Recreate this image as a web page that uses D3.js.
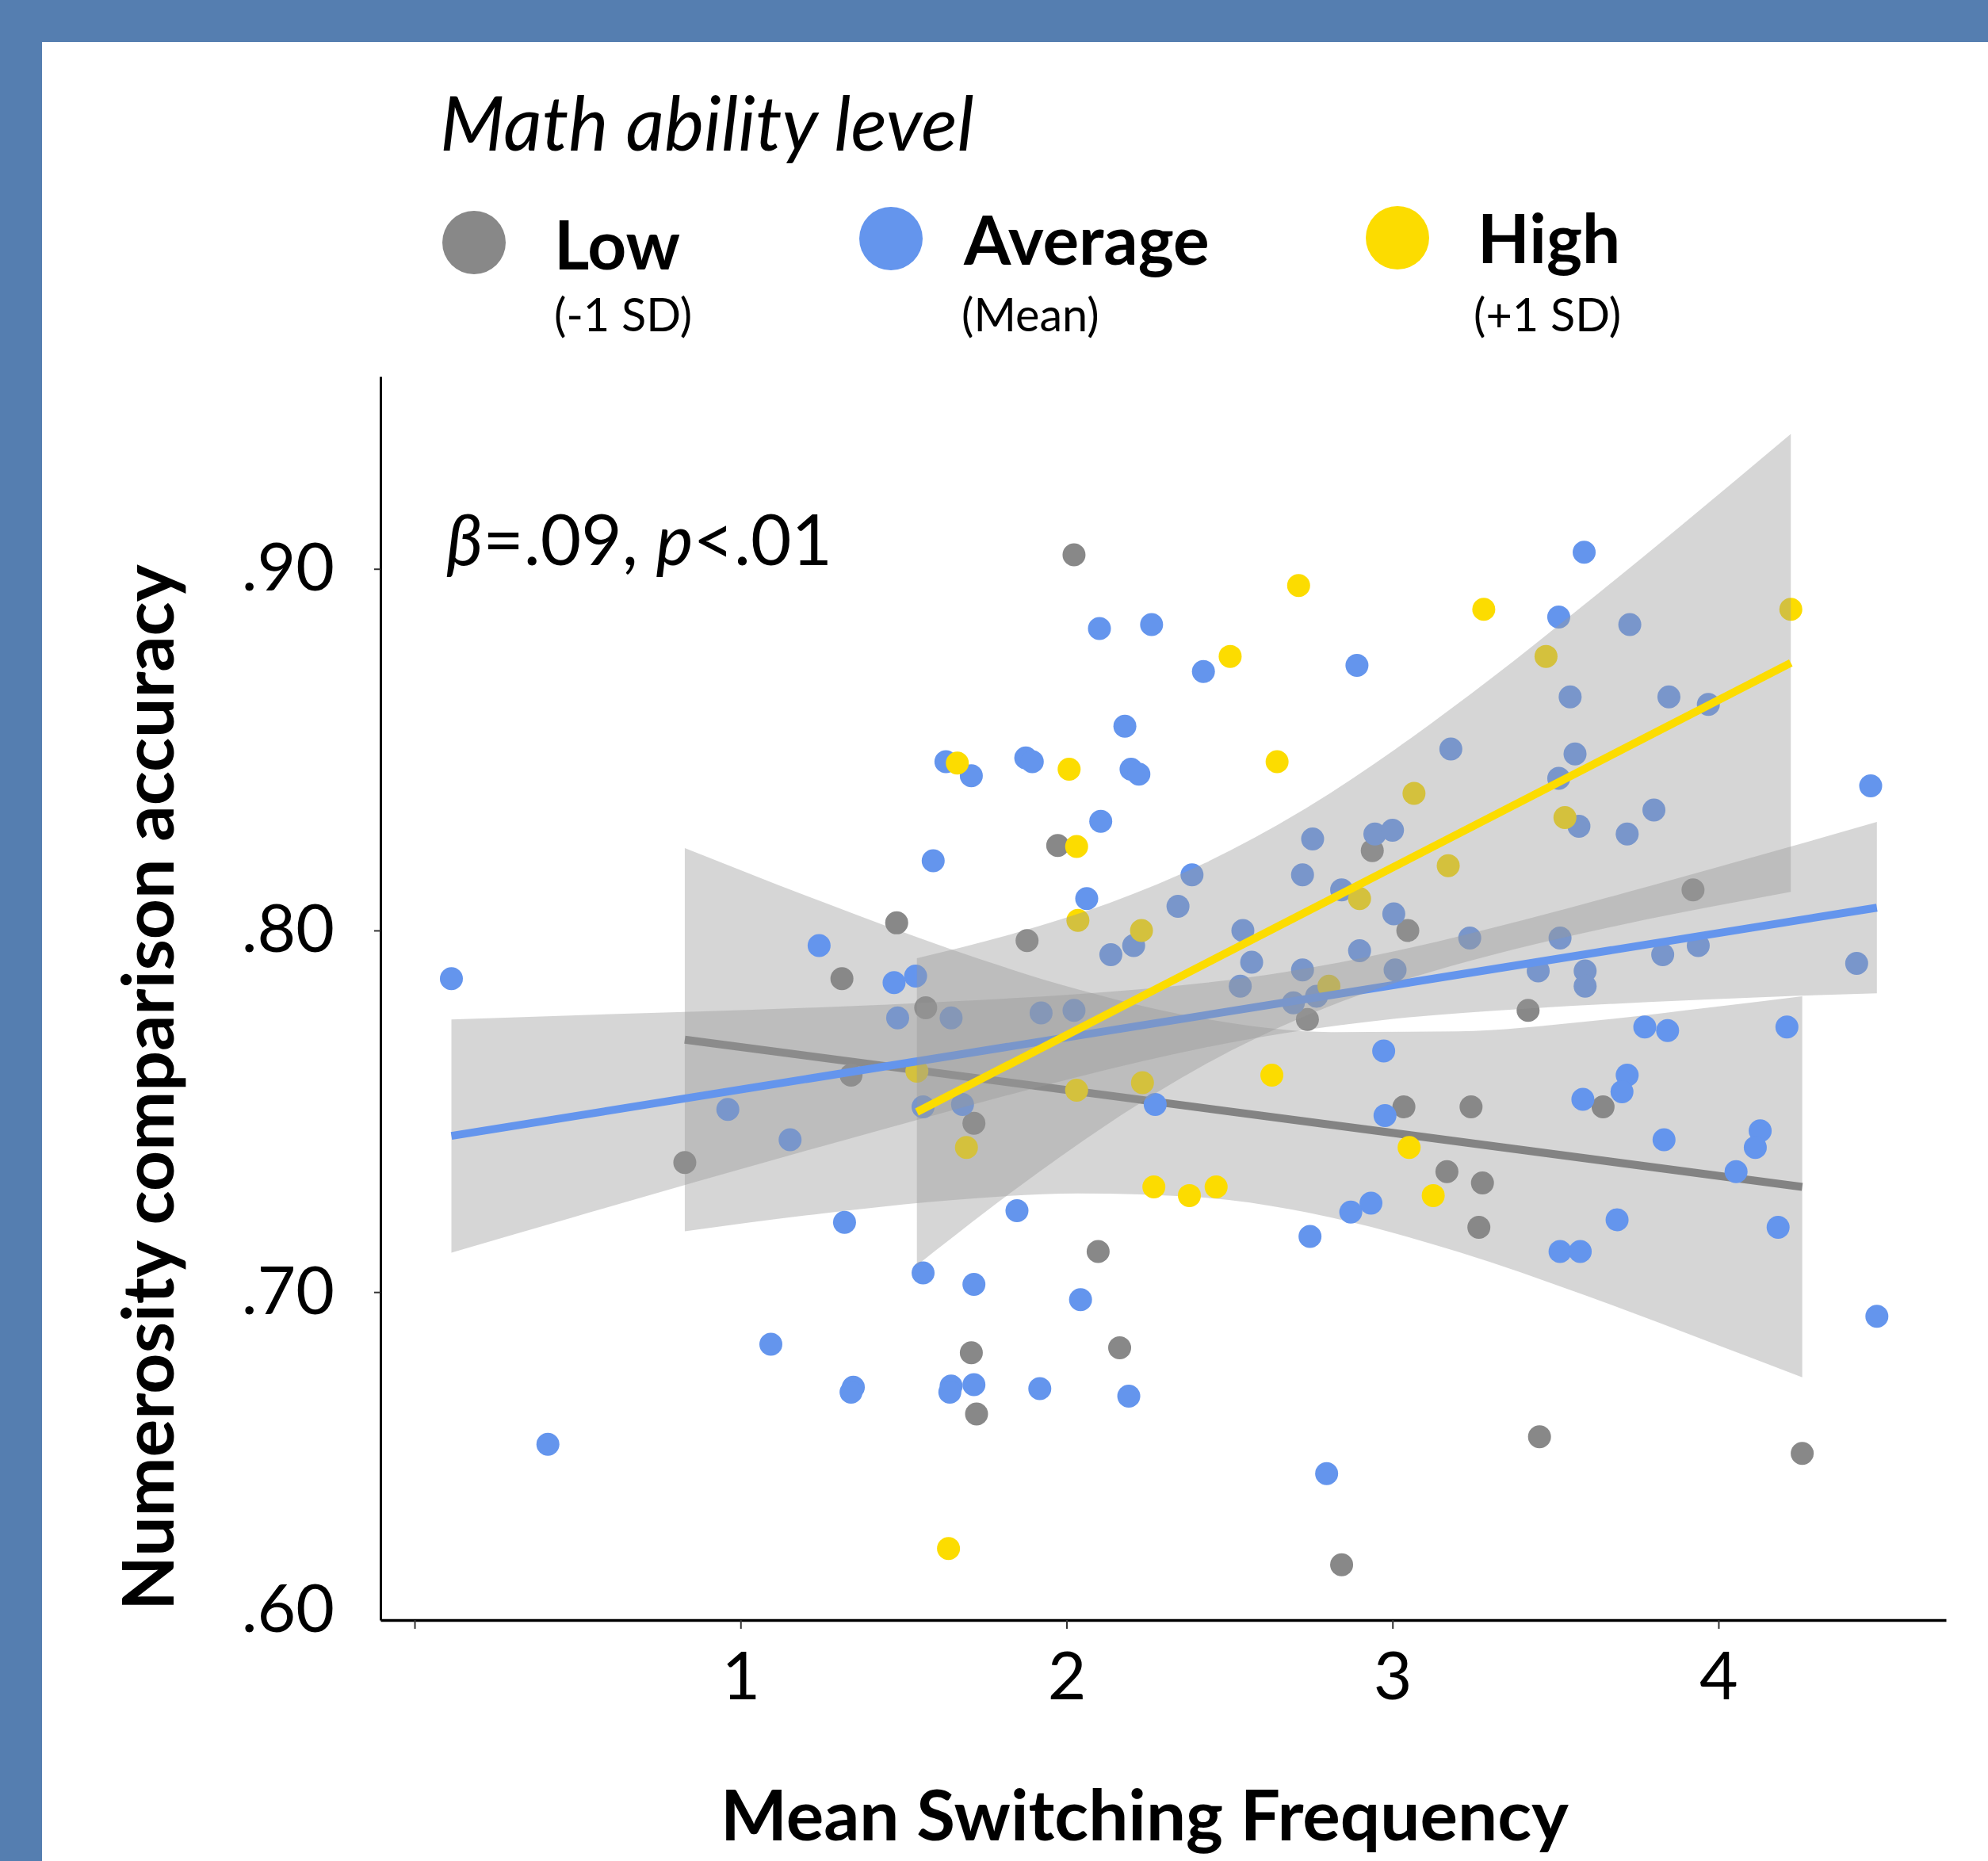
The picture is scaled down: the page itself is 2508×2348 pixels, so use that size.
<!DOCTYPE html>
<html><head><meta charset="utf-8">
<script src="https://cdn.jsdelivr.net/npm/d3@7"></script>
<style>body{margin:0;background:#fff} svg{display:block}</style>
</head><body>
<svg id="c" width="2508" height="2348"></svg>
<script>
// ---------------- DATA ----------------
const groups = ["Low", "Average", "High"];
const groupSubs = ["(-1 SD)", "(Mean)", "(+1 SD)"];
const groupColors = ["#888888", "#6495ED", "#FCDC00"];
const xTicks = [0, 1, 2, 3, 4];
const yTicks = [0.6, 0.7, 0.8, 0.9];

const lowX = [2.023,1.973,1.479,1.879,1.311,1.568,2.938,3.047,2.739,3.922,3.416,1.339,1.716,0.829,3.035,3.241,3.646,3.167,3.276,3.265,2.097,2.163,1.708,1.724,3.451,4.257,2.844];
const lowY = [.9039,.8235,.8021,.7972,.7867,.7786,.8221,.8000,.7754,.8112,.7779,.7600,.7467,.7358,.7512,.7512,.7512,.7333,.7302,.7179,.7112,.6846,.6832,.6663,.6600,.6554,.6246];

const avgX = [0.113,0.409,1.093,0.961,1.152,1.241,1.319,1.346,1.339,1.471,
1.537,1.482,1.646,1.922,2.023,2.136,2.206,1.591,1.630,1.708,
1.875,1.895,2.101,2.261,2.179,2.198,2.222,2.105,2.062,2.420,
2.891,3.588,3.510,3.728,2.385,2.342,2.541,2.568,2.533,2.755,
2.724,2.844,2.946,3.000,3.179,3.004,2.899,2.724,2.696,2.767,
3.008,3.237,3.545,3.848,3.969,3.560,3.510,3.572,3.720,3.802,
3.514,3.447,3.591,3.591,3.829,3.938,4.424,4.467,2.973,3.774,
3.844,4.210,3.720,3.704,3.584,2.272,2.977,3.833,4.128,4.113,
4.054,2.934,2.872,2.747,3.689,3.514,3.576,4.183,4.486,2.191,
2.798,1.560,1.681,1.848,1.560,1.716,2.043,1.646,1.642,1.716,1.918];
const avgY = [.7867,.6579,.6856,.7505,.7421,.7958,.7193,.6737,.6723,.7856,
.7874,.7758,.7758,.7772,.7779,.7933,.7958,.8193,.8467,.8428,
.8477,.8467,.8835,.8846,.8565,.8446,.8432,.8302,.8088,.8716,
.8733,.9046,.8867,.8846,.8154,.8067,.8000,.7912,.7846,.8253,
.8154,.8112,.8267,.8277,.8502,.8046,.7944,.7891,.7800,.7818,
.7891,.7979,.8646,.8646,.8625,.8488,.8421,.8288,.8267,.8333,
.7979,.7888,.7888,.7846,.7933,.7958,.7909,.8400,.7667,.7733,
.7723,.7733,.7600,.7554,.7533,.7519,.7488,.7421,.7446,.7400,
.7333,.7246,.7221,.7154,.7200,.7112,.7112,.7179,.6933,.6712,
.6498,.7512,.7519,.7225,.7053,.7021,.6979,.6740,.6723,.6744,.6733];

const highX = [1.665,2.008,2.031,2.035,2.712,3.280,2.502,2.646,4.222,3.471,3.066,3.529,3.171,2.899,2.230,2.805,1.541,2.031,2.233,2.630,3.051,1.693,2.268,2.377,2.459,3.125,1.638];
const highY = [.8463,.8446,.8232,.8028,.8954,.8888,.8758,.8467,.8888,.8758,.8379,.8312,.8179,.8088,.8000,.7846,.7611,.7558,.7579,.7600,.7400,.7400,.7291,.7267,.7291,.7267,.6291];

// fitted lines (end points)
const lowLineX = [0.829, 4.257],  lowLineY = [0.7698, 0.7291];
const avgLineX = [0.113, 4.486],  avgLineY = [0.7432, 0.8063];
const highLineX = [1.541, 4.222], highLineY = [0.7498, 0.8740];

// confidence bands
const lowBandX  = [0.829,1.257,1.646,2.035,2.424,2.813,3.202,3.591,3.981,4.257];
const lowBandLo = [.7168,.7218,.7254,.7273,.7261,.7206,.7111,.6991,.6859,.6764];
const lowBandHi = [.8228,.8077,.7948,.7837,.7756,.7719,.7721,.7748,.7788,.7818];

const avgBandX  = [0.113,0.479,0.868,1.257,1.646,2.035,2.424,2.669,3.008,3.397,3.786,4.175,4.486];
const avgBandLo = [.7109,.7205,.7306,.7405,.7502,.7595,.7676,.7716,.7756,.7783,.7802,.7817,.7826];
const avgBandHi = [.7754,.7765,.7776,.7788,.7804,.7824,.7855,.7885,.7943,.8028,.8122,.8220,.8300];

const highBandX  = [1.541,1.840,2.132,2.424,2.716,3.008,3.300,3.591,3.883,4.222];
const highBandLo = [.7074,.7282,.7468,.7629,.7757,.7855,.7931,.7994,.8049,.8107];
const highBandHi = [.7923,.7992,.8076,.8186,.8328,.8501,.8695,.8903,.9118,.9373];

// ---------------- DRAW ----------------
const W = 2508, H = 2348;
const FONT = "Lato, 'Open Sans', 'DejaVu Sans', sans-serif";
const svg = d3.select("#c");
svg.append("rect").attr("width", W).attr("height", H).attr("fill", "#fff");
svg.append("rect").attr("x",0).attr("y",0).attr("width",W).attr("height",53).attr("fill","#557EB0");
svg.append("rect").attr("x",0).attr("y",0).attr("width",53).attr("height",H).attr("fill","#557EB0");

const x = d3.scaleLinear().domain([-0.1046, 4.698]).range([480, 2455]);
const y = d3.scaleLinear().domain([0.6093, 0.9532]).range([2044, 475]);

const zip = (xs, ys) => xs.map((v, i) => ({x: v, y: ys[i]}));
const pointSets = [zip(lowX, lowY), zip(avgX, avgY), zip(highX, highY)];
const lineSets = [zip(lowLineX, lowLineY), zip(avgLineX, avgLineY), zip(highLineX, highLineY)];
const bandSets = [
  lowBandX.map((v,i)=>({x:v, lo:lowBandLo[i], hi:lowBandHi[i]})),
  avgBandX.map((v,i)=>({x:v, lo:avgBandLo[i], hi:avgBandHi[i]})),
  highBandX.map((v,i)=>({x:v, lo:highBandLo[i], hi:highBandHi[i]}))
];

const area = d3.area().x(d => x(d.x)).y0(d => y(d.lo)).y1(d => y(d.hi)).curve(d3.curveMonotoneX);
const line = d3.line().x(d => x(d.x)).y(d => y(d.y));

function drawFit(gi) {
  const g = svg.append("g");
  g.append("path").attr("d", area(bandSets[gi])).attr("fill", "#999999").attr("fill-opacity", 0.4);
  g.append("path").attr("d", line(lineSets[gi])).attr("fill", "none")
    .attr("stroke", gi === 0 ? "#838383" : groupColors[gi]).attr("stroke-width", 10);
}

// low-group fit sits beneath the points
drawFit(0);

// points
const gPts = svg.append("g");
pointSets.forEach((pts, gi) => {
  gPts.selectAll(null).data(pts).enter().append("circle")
    .attr("cx", d => x(d.x)).attr("cy", d => y(d.y)).attr("r", 14.5)
    .attr("fill", groupColors[gi]);
});

// average and high fits above the points
drawFit(1);
drawFit(2);

// axes
const gx = svg.append("g").attr("transform", "translate(0,2044)")
  .call(d3.axisBottom(x).tickValues(xTicks).tickFormat(d => d === 0 ? "" : d3.format("d")(d))
    .tickSize(11).tickSizeOuter(0).tickPadding(29));
gx.select(".domain").attr("stroke", "#000").attr("stroke-width", 3.5);
gx.selectAll(".tick line").attr("stroke", "#333").attr("stroke-width", 2);
gx.selectAll(".tick text").attr("font-family", FONT).attr("font-size", 84).attr("fill", "#000");

const gy = svg.append("g").attr("transform", "translate(480,0)")
  .call(d3.axisLeft(y).tickValues(yTicks).tickFormat(d => d3.format(".2f")(d).replace(/^0/, ""))
    .tickSize(8).tickSizeOuter(0).tickPadding(50));
gy.select(".domain").attr("stroke", "#000").attr("stroke-width", 3);
gy.selectAll(".tick line").attr("stroke", "#333").attr("stroke-width", 2);
gy.selectAll(".tick text").attr("font-family", FONT).attr("font-size", 84).attr("fill", "#000");
gy.selectAll(".tick").filter(d => d === 0.6).attr("transform", "translate(0,2032)")
  .select("line").remove();

function fitW(sel, w) {
  const cur = sel.node().getComputedTextLength();
  const fs = parseFloat(sel.attr("font-size"));
  if (cur > 0) sel.attr("font-size", fs * w / cur);
  return sel;
}

// axis titles
fitW(svg.append("text").attr("x", 1444).attr("y", 2322).attr("text-anchor", "middle")
  .attr("font-family", FONT).attr("font-weight", 700).attr("font-size", 84)
  .text("Mean Switching Frequency"), 1070);
fitW(svg.append("text").attr("transform", "translate(219,1372) rotate(-90)").attr("text-anchor", "middle")
  .attr("font-family", FONT).attr("font-weight", 700).attr("font-size", 84)
  .text("Numerosity comparison accuracy"), 1320);

// annotation
const ann = svg.append("text").attr("x", 563).attr("y", 713)
  .attr("font-family", FONT).attr("font-size", 86).attr("fill", "#000");
ann.append("tspan").attr("font-style", "italic").text("β");
ann.append("tspan").text("=.09, ");
ann.append("tspan").attr("font-style", "italic").text("p");
ann.append("tspan").text("<.01");
fitW(ann, 487);

// legend
fitW(svg.append("text").attr("x", 555).attr("y", 190)
  .attr("font-family", FONT).attr("font-style", "italic").attr("font-size", 84)
  .text("Math ability level"), 674);

const legCx = [598, 1124, 1763], legCy = [306, 301, 300];
const labX = [699, 1216, 1864], labY = [340, 334, 332], labW = [159, 317, 176];
const subX = [699, 1213, 1859], subW = [168, 182, 184];
const gl = svg.append("g");
groups.forEach((g, i) => {
  gl.append("circle").attr("cx", legCx[i]).attr("cy", legCy[i]).attr("r", 40).attr("fill", groupColors[i]);
});
const labs = groups.map((g, i) => gl.append("text").attr("x", labX[i]).attr("y", labY[i])
  .attr("font-family", FONT).attr("font-weight", 700).attr("font-size", 85).text(g));
let sc = d3.mean(labs, (s, i) => labW[i] / s.node().getComputedTextLength());
labs.forEach(s => s.attr("font-size", 85 * sc));
const subs = groupSubs.map((g, i) => gl.append("text").attr("x", subX[i]).attr("y", 418)
  .attr("font-family", FONT).attr("font-size", 59).text(g));
sc = d3.mean(subs, (s, i) => subW[i] / s.node().getComputedTextLength());
subs.forEach(s => s.attr("font-size", 59 * sc));
</script>
</body></html>
